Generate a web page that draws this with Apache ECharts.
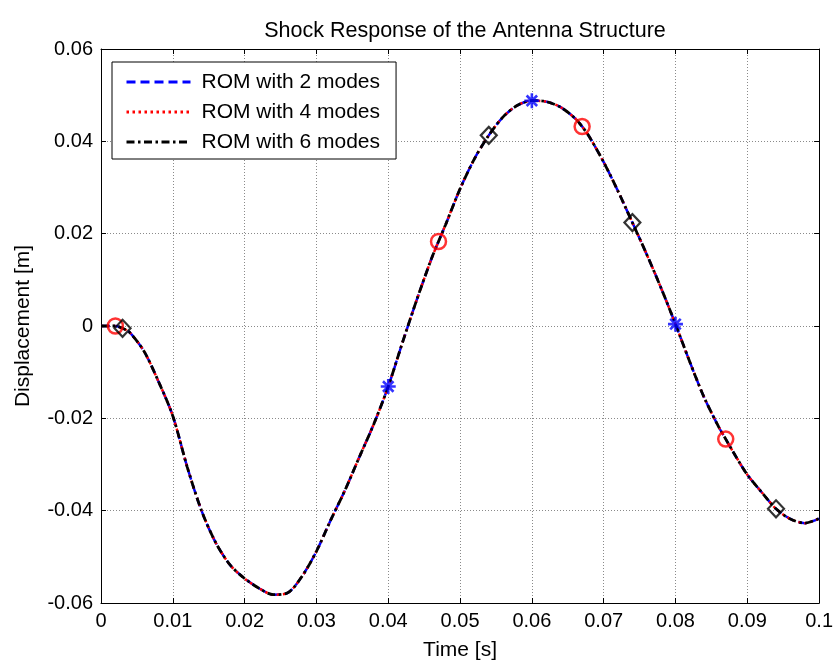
<!DOCTYPE html>
<html>
<head>
<meta charset="utf-8">
<script src="https://cdn.jsdelivr.net/npm/echarts@6/dist/echarts.min.js"></script>
<style>
  html, body { margin: 0; padding: 0; background: #fff; }
  #chart { width: 836px; height: 666px; }
</style>
</head>
<body>
<div id="chart"></div>
<script>
// Time samples [s] and tip displacement [m] of the antenna under the shock load
const time = [
  0, 0.001, 0.002, 0.003, 0.004, 0.006, 0.008, 0.010, 0.012, 0.014, 0.016, 0.018,
  0.020, 0.022, 0.024, 0.026, 0.028, 0.030, 0.032, 0.034, 0.036, 0.038, 0.040,
  0.042, 0.044, 0.046, 0.047, 0.048, 0.050, 0.052, 0.054, 0.056, 0.058, 0.060,
  0.062, 0.064, 0.066, 0.067, 0.068, 0.070, 0.072, 0.074, 0.076, 0.078, 0.080,
  0.082, 0.084, 0.086, 0.087, 0.088, 0.090, 0.092, 0.094, 0.096, 0.098, 0.100
];
const rom2 = [
  0, 0, 0, -0.0005, -0.0014, -0.0055, -0.0120, -0.0195, -0.0305, -0.0400, -0.0470, -0.0518,
  -0.0547, -0.0568, -0.0582, -0.0578, -0.0542, -0.0488, -0.0420, -0.0355, -0.0283, -0.0212, -0.0131,
  -0.0035, 0.0058, 0.0145, 0.0183, 0.0220, 0.0297, 0.0362, 0.0413, 0.0453, 0.0478, 0.0488,
  0.0486, 0.0474, 0.0450, 0.0432, 0.0410, 0.0355, 0.0292, 0.0224, 0.0155, 0.0082, 0.0004,
  -0.0078, -0.0155, -0.0218, -0.0245, -0.0272, -0.0322, -0.0360, -0.0396, -0.0418, -0.0427, -0.0417
];
const rom4 = rom2.slice();
const rom6 = rom2.slice();

// Times at which each ROM curve carries a marker
const starTimes = [0.040, 0.060, 0.080];
const circleTimes = [0.002, 0.047, 0.067, 0.087];
const diamondTimes = [0.003, 0.054, 0.074, 0.094];

const xTicks = ['0', '0.01', '0.02', '0.03', '0.04', '0.05', '0.06', '0.07', '0.08', '0.09', '0.1'];
const yTicks = ['-0.06', '-0.04', '-0.02', '0', '0.02', '0.04', '0.06'];

const pairs = (ys) => time.map((t, i) => [t, ys[i]]);
const marks = (ts, ys) => ts.map(t => [t, ys[time.indexOf(t)]]);

const FONT = 'Liberation Sans, Arial, sans-serif';
const chart = echarts.init(document.getElementById('chart'), null, { renderer: 'canvas' });

const boxAxis = {
  axisLine: { show: true, onZero: false, lineStyle: { color: '#000', width: 1 } },
  axisTick: { show: true, inside: true, length: 5, lineStyle: { color: '#000' } },
  splitLine: { show: false },
  axisLabel: { show: false }
};
const gridLine = { show: true, lineStyle: { color: '#8a8a8a', type: [1, 2], width: 1 } };
const asterisk = 'path://M5,0L5,10M0,5L10,5M1.5,1.5L8.5,8.5M1.5,8.5L8.5,1.5';
const hidden = 'rgba(0,0,0,0)';

chart.setOption({
  animation: false,
  backgroundColor: '#fff',
  title: {
    text: 'Shock Response of the Antenna Structure',
    left: 460, textAlign: 'center', top: 15,
    textStyle: { fontFamily: FONT, fontSize: 21.5, fontWeight: 'normal', color: '#000' }
  },
  legend: {
    left: 112, top: 62,
    orient: 'vertical',
    data: ['ROM with 2 modes', 'ROM with 4 modes', 'ROM with 6 modes'],
    itemWidth: 64, itemHeight: 14, itemGap: 9,
    padding: [9.5, 16, 6.5, 13],
    backgroundColor: '#fff',
    borderColor: '#000', borderWidth: 1, borderRadius: 0,
    lineStyle: { width: 3 },
    textStyle: { fontFamily: FONT, fontSize: 21, color: '#000', padding: [0, 0, 0, 6] }
  },
  grid: { left: 101, right: 16, top: 49, bottom: 59, containLabel: false },
  xAxis: [
    {
      type: 'value', min: 0, max: 0.1, interval: 0.01,
      name: 'Time [s]', nameLocation: 'middle', nameGap: 37,
      nameTextStyle: { fontFamily: FONT, fontSize: 21, color: '#000' },
      axisLine: { show: true, onZero: false, lineStyle: { color: '#000', width: 1 } },
      axisTick: { show: true, inside: true, length: 5, lineStyle: { color: '#000' } },
      axisLabel: {
        fontFamily: FONT, fontSize: 20, color: '#000', margin: 8,
        formatter: (v, i) => xTicks[i]
      },
      splitLine: gridLine
    },
    Object.assign({ type: 'value', min: 0, max: 0.1, interval: 0.01, position: 'top' }, boxAxis)
  ],
  yAxis: [
    {
      type: 'value', min: -0.06, max: 0.06, interval: 0.02,
      name: 'Displacement [m]', nameLocation: 'middle', nameGap: 67,
      nameTextStyle: { fontFamily: FONT, fontSize: 21, color: '#000' },
      axisLine: { show: true, onZero: false, lineStyle: { color: '#000', width: 1 } },
      axisTick: { show: true, inside: true, length: 5, lineStyle: { color: '#000' } },
      axisLabel: {
        fontFamily: FONT, fontSize: 20, color: '#000', margin: 8,
        formatter: (v, i) => yTicks[i]
      },
      splitLine: gridLine
    },
    Object.assign({ type: 'value', min: -0.06, max: 0.06, interval: 0.02, position: 'right' }, boxAxis)
  ],
  series: [
    {
      name: 'ROM with 2 modes', type: 'line', data: pairs(rom2),
      smooth: 0.3, symbol: 'none', z: 2,
      itemStyle: { color: hidden },
      lineStyle: { color: '#0000ff', width: 2.5, type: [9, 5] }
    },
    {
      name: 'ROM with 4 modes', type: 'line', data: pairs(rom4),
      smooth: 0.3, symbol: 'none', z: 3,
      itemStyle: { color: hidden },
      lineStyle: { color: '#ff0000', width: 2.5, type: [2.5, 3.5] }
    },
    {
      name: 'ROM with 6 modes', type: 'line', data: pairs(rom6),
      smooth: 0.3, symbol: 'none', z: 4,
      itemStyle: { color: hidden },
      lineStyle: { color: '#000', width: 2.8, type: [8, 3.5, 2.5, 3.5] }
    },
    {
      type: 'scatter', data: marks(starTimes, rom2), z: 5,
      symbol: asterisk, symbolSize: 15,
      itemStyle: { color: hidden, borderColor: '#0000ff', borderWidth: 2.6 }
    },
    {
      type: 'scatter', data: marks(circleTimes, rom4), z: 5,
      symbol: 'circle', symbolSize: 15,
      itemStyle: { color: hidden, borderColor: '#ff0000', borderWidth: 2.5 }
    },
    {
      type: 'scatter', data: marks(diamondTimes, rom6), z: 6,
      symbol: 'diamond', symbolSize: [16, 17],
      itemStyle: { color: hidden, borderColor: '#000', borderWidth: 2.2 }
    }
  ]
});
</script>
</body>
</html>
